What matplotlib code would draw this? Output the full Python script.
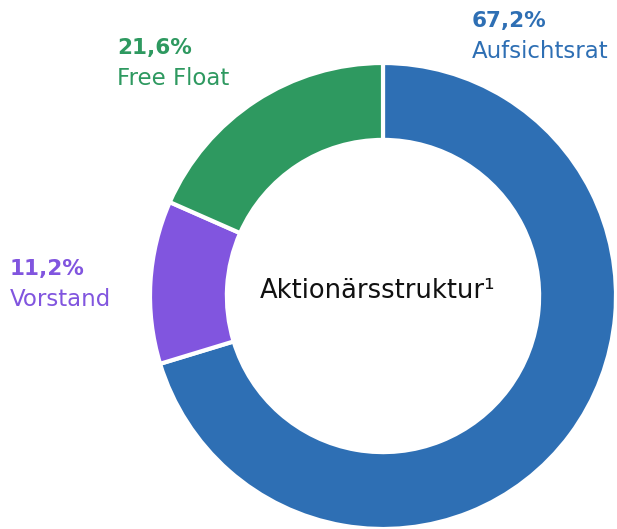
import matplotlib
matplotlib.use("Agg")
import matplotlib.pyplot as plt

# shareholder structure
labels = ["Aufsichtsrat", "Vorstand", "Free Float"]
pct_text = ["67,2%", "11,2%", "21,6%"]
# wedge sizes as drawn in the picture (the ring does not follow the printed labels exactly)
shares = [70.3, 11.3, 18.4]
colors = ["#2E6FB4", "#8155DF", "#2E9960"]

W, H = 617, 529
fig = plt.figure(figsize=(W / 100, H / 100), dpi=100)

# donut centre and radius in pixels
cx, cy, r = 383, 296, 233
ax = fig.add_axes([(cx - r) / W, (H - cy - r) / H, 2 * r / W, 2 * r / H])
ax.pie(shares, colors=colors, startangle=90, counterclock=False,
       radius=1.0,
       wedgeprops={'width': 0.33, 'edgecolor': 'white', 'linewidth': 3})
ax.set_xlim(-1, 1)
ax.set_ylim(-1, 1)
ax.set_aspect('equal')
ax.axis('off')

fig.text(378 / W, 1 - 298 / H, "Aktionärsstruktur¹", ha='center', va='baseline',
         fontsize=18.5, color='#111111')

# labels: left x, baseline of percentage (pixels)
label_pos = [(472, 27), (10, 275), (117, 54)]
for (lx, ly), p, name, c in zip(label_pos, pct_text, labels, colors):
    fig.text(lx / W, 1 - ly / H, p, ha='left', va='baseline', fontsize=15.5,
             fontweight='bold', color=c)
    fig.text(lx / W, 1 - (ly + 31) / H, name, ha='left', va='baseline', fontsize=16.5,
             color=c)

fig.savefig("out.png", dpi=100)
